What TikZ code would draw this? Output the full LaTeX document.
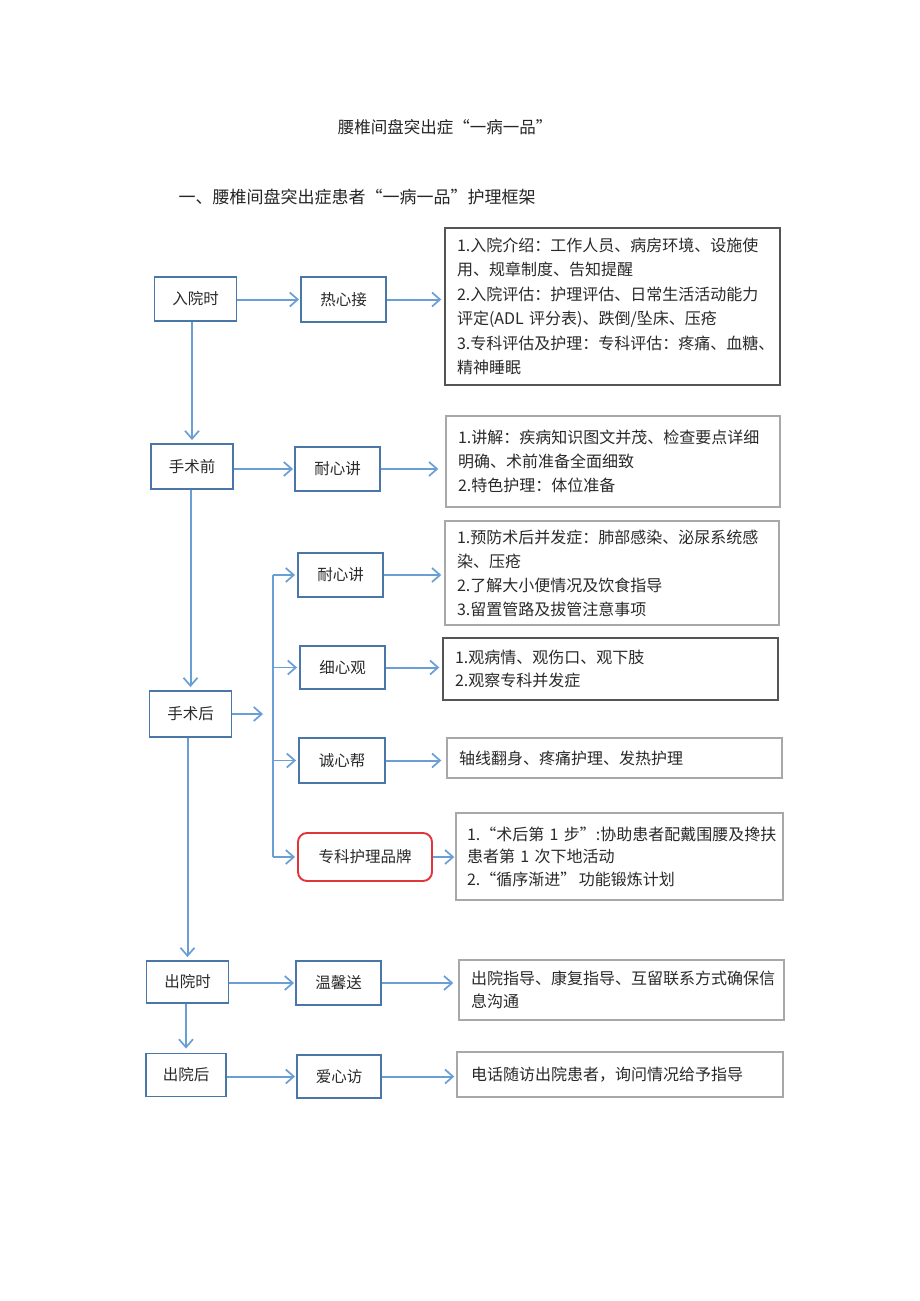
\documentclass[tikz,border=0pt]{standalone}
\usepackage{fontspec}
\setmainfont{Noto Sans CJK SC}
\usetikzlibrary{arrows.meta}
\definecolor{boxblue}{HTML}{4A76A8}
\definecolor{arrblue}{HTML}{6A9FD6}
\definecolor{txt}{HTML}{2A2A2A}
\definecolor{grayA}{HTML}{A8A8A8}
\definecolor{grayB}{HTML}{555555}
\definecolor{redb}{HTML}{E0353A}
\begin{document}
\begin{tikzpicture}[x=1pt,y=-1pt,
  lbl/.style={draw=boxblue, line width=1.9pt, minimum width=82pt, minimum height=44pt, inner sep=0pt, font=\fontsize{15.5}{18}\selectfont, text=txt},
  mid/.style={lbl, minimum width=85pt},
  info/.style={draw=grayA, line width=1.4pt, inner xsep=12pt, inner ysep=0pt, align=left, text=txt, font=\fontsize{16}{24}\selectfont},
  arr/.style={draw=arrblue, line width=2pt, -{Straight Barb[length=8pt,width=14pt,line width=1.7pt]}},
  brline/.style={draw=arrblue, line width=1.5pt},
  head/.style={text=black!85}
]
\useasboundingbox (0,0) rectangle (920,1301);
\fill[white] (0,0) rectangle (920,1301);

% titles
\node[head, font=\fontsize{16.5}{20}\selectfont] (title) at (445,127) {腰椎间盘突出症“一病一品”};
\node[head, anchor=west, font=\fontsize{17}{20}\selectfont] (subtitle) at (175,197) {一、腰椎间盘突出症患者“一病一品”护理框架};

% left column
\node[lbl] (rut) at (195.5,299) {入院时};
\node[lbl, minimum height=45pt] (sqq) at (192,466.5) {手术前};
\node[lbl, minimum height=46pt] (shh) at (190.5,714) {手术后};
\node[lbl, minimum height=42pt] (cys) at (187.5,982) {出院时};
\node[lbl, minimum width=80pt, minimum height=43pt] (cyh) at (186,1075) {出院后};

% middle column
\node[mid, minimum height=45pt] (rxj) at (343.5,299.5) {热心接};
\node[mid] (nxj1) at (337.5,469) {耐心讲};
\node[mid] (nxj2) at (340.5,575) {耐心讲};
\node[mid, minimum height=43pt] (xxg) at (342.5,667.5) {细心观};
\node[mid, minimum width=86pt, minimum height=45pt] (cxb) at (342,760.5) {诚心帮};
\node[mid, draw=redb, rounded corners=9pt, minimum width=134pt, minimum height=48pt] (zk) at (365,857) {专科护理品牌};
\node[mid] (wxs) at (338.5,983) {温馨送};
\node[mid, minimum width=84pt, minimum height=43pt] (axf) at (339,1076.5) {爱心访};

% info boxes
\node[info, draw=grayB, text width=311pt, minimum height=157pt, font=\fontsize{16}{24.5}\selectfont] (b1) at (612.5,306.5)
  {1.入院介绍：工作人员、病房环境、设施使\\用、规章制度、告知提醒\\2.入院评估：护理评估、日常生活活动能力\\评定(ADL~评分表)、跌倒/坠床、压疮\\3.专科评估及护理：专科评估：疼痛、血糖、\\精神睡眠};
\node[info, text width=310pt, minimum height=91pt] (b2) at (613,461.5)
  {1.讲解：疾病知识图文并茂、检查要点详细\\明确、术前准备全面细致\\2.特色护理：体位准备};
\node[info, text width=310pt, minimum height=104pt] (b3) at (612,573)
  {1.预防术后并发症：肺部感染、泌尿系统感\\染、压疮\\2.了解大小便情况及饮食指导\\3.留置管路及拔管注意事项};
\node[info, draw=grayB, text width=311pt, minimum height=62pt, font=\fontsize{16}{23}\selectfont] (b4) at (610.5,669)
  {1.观病情、观伤口、观下肢\\2.观察专科并发症};
\node[info, text width=311pt, minimum height=40pt] (b5) at (614.5,758)
  {轴线翻身、疼痛护理、发热护理};
\node[info, inner xsep=11pt, text width=305pt, minimum height=87pt, font=\fontsize{16}{22.5}\selectfont] (b6) at (619.5,856.5)
  {1.“术后第~1~步”:协助患者配戴围腰及搀扶\\患者第~1~次下地活动\\2.“循序渐进”\,功能锻炼计划};
\node[info, inner xsep=12pt, text width=301pt, minimum height=60pt, font=\fontsize{16}{23}\selectfont] (b7) at (621.5,990)
  {出院指导、康复指导、互留联系方式确保信\\息沟通};
\node[info, inner xsep=14pt, text width=298pt, minimum height=45pt] (b8) at (620,1074.5)
  {电话随访出院患者，询问情况给予指导};

% vertical main flow
\draw[arr, shorten >=3pt] (rut.south -| sqq.north) -- (sqq.north);
\draw[arr, shorten >=3pt] (sqq.south -| shh.north) -- (shh.north);
\draw[arr, shorten >=3pt] (shh.south -| cys.north) -- (cys.north);
\draw[arr, shorten >=4pt] (cys.south -| cyh.north) -- (cyh.north);

% horizontal arrows
\draw[arr, shorten >=1pt] (rxj.west -| rut.east) -- (rxj.west);
\draw[arr, shorten >=3pt] (rxj.east) -- (rxj.east -| b1.west);
\draw[arr, shorten >=1pt] (nxj1.west -| sqq.east) -- (nxj1.west);
\draw[arr, shorten >=7pt] (nxj1.east) -- (nxj1.east -| b2.west);
\draw[arr, shorten >=1pt] (wxs.west -| cys.east) -- (wxs.west);
\draw[arr, shorten >=5pt] (wxs.east) -- (wxs.east -| b7.west);
\draw[arr, shorten >=1pt] (axf.west -| cyh.east) -- (axf.west);
\draw[arr, shorten >=2pt] (axf.east) -- (axf.east -| b8.west);

% post-operation branch
\coordinate (hj) at (263,714);
\coordinate (brk) at (273,0);
\draw[arr] (shh.east) -- (hj);
\draw[brline] (nxj2.west -| brk) -- (zk.west -| brk);
\draw[arr, line width=1.5pt, shorten >=2pt] (nxj2.west -| brk) -- (nxj2.west);
\draw[arr, line width=1.5pt, shorten >=2pt] (xxg.west -| brk) -- (xxg.west);
\draw[arr, line width=1.5pt, shorten >=2pt] (cxb.west -| brk) -- (cxb.west);
\draw[arr, line width=1.5pt, shorten >=2pt] (zk.west -| brk) -- (zk.west);
\draw[arr, shorten >=3pt] (nxj2.east) -- (nxj2.east -| b3.west);
\draw[arr, shorten >=3pt] (xxg.east) -- (xxg.east -| b4.west);
\draw[arr, shorten >=5pt] (cxb.east) -- (cxb.east -| b5.west);
\draw[arr, shorten >=1pt] (zk.east) -- (zk.east -| b6.west);
\end{tikzpicture}
\end{document}
